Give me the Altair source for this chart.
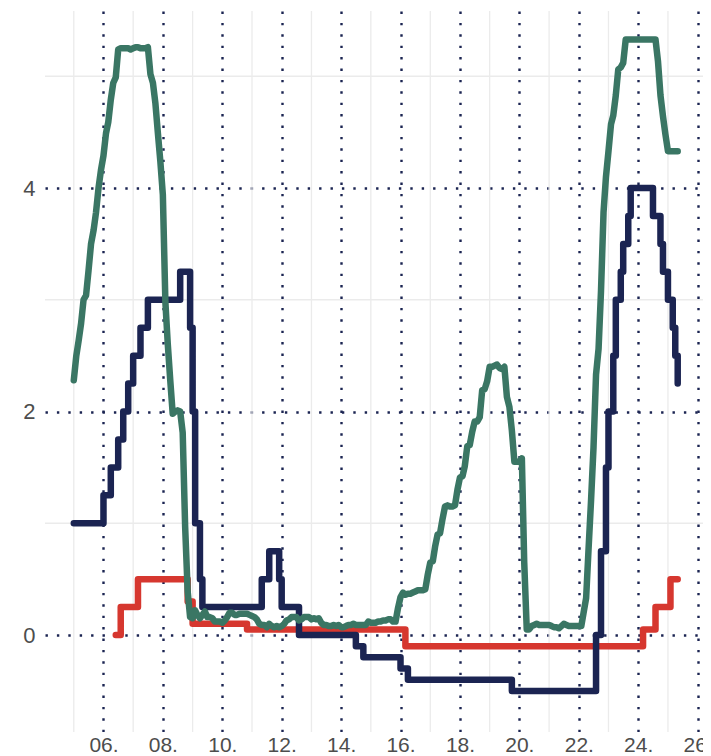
import altair as alt
import pandas as pd

NAVY = "#1b2452"
GREEN = "#3a7664"
RED = "#d6372f"
GRID_LIGHT = "#ebebeb"
LABEL = "#4d4d4d"
FONT = "Liberation Sans"

# Green series: monthly rate, Jan 2005 - May 2025
green_start_year = 2005
green_rate = [
    2.28, 2.50, 2.63, 2.79, 3.00, 3.04, 3.26, 3.50, 3.62, 3.78, 4.00, 4.16,
    4.29, 4.49, 4.59, 4.79, 4.94, 4.99, 5.24, 5.25, 5.25, 5.25, 5.25, 5.24,
    5.25, 5.26, 5.26, 5.25, 5.25, 5.25, 5.26, 5.02, 4.94, 4.76, 4.49, 4.24,
    3.94, 2.98, 2.61, 2.28, 1.98, 2.00, 2.01, 2.00, 1.81, 0.97, 0.39, 0.16,
    0.15, 0.22, 0.18, 0.15, 0.18, 0.21, 0.16, 0.16, 0.15, 0.12, 0.12, 0.12,
    0.11, 0.13, 0.16, 0.20, 0.20, 0.18, 0.18, 0.19, 0.19, 0.19, 0.19, 0.18,
    0.17, 0.16, 0.14, 0.10, 0.09, 0.09, 0.07, 0.10, 0.08, 0.07, 0.08, 0.07,
    0.08, 0.10, 0.13, 0.14, 0.16, 0.16, 0.16, 0.13, 0.14, 0.16, 0.16, 0.16,
    0.14, 0.15, 0.14, 0.15, 0.11, 0.09, 0.09, 0.08, 0.08, 0.09, 0.08, 0.09,
    0.07, 0.07, 0.08, 0.09, 0.09, 0.10, 0.09, 0.09, 0.09, 0.09, 0.09, 0.12,
    0.11, 0.11, 0.11, 0.12, 0.12, 0.13, 0.13, 0.14, 0.14, 0.12, 0.12, 0.24,
    0.34, 0.38, 0.36, 0.37, 0.37, 0.38, 0.39, 0.40, 0.40, 0.40, 0.41, 0.54,
    0.65, 0.66, 0.79, 0.90, 0.91, 1.04, 1.15, 1.16, 1.15, 1.15, 1.16, 1.30,
    1.41, 1.42, 1.51, 1.69, 1.70, 1.82, 1.91, 1.91, 1.95, 2.19, 2.20, 2.27,
    2.40, 2.40, 2.41, 2.42, 2.39, 2.38, 2.40, 2.13, 2.04, 1.83, 1.55, 1.55,
    1.55, 1.58, 0.65, 0.05, 0.05, 0.08, 0.09, 0.10, 0.09, 0.09, 0.09, 0.09,
    0.09, 0.08, 0.07, 0.07, 0.06, 0.08, 0.10, 0.09, 0.08, 0.08, 0.08, 0.08,
    0.08, 0.08, 0.20, 0.33, 0.77, 1.21, 1.68, 2.33, 2.56, 3.08, 3.78, 4.10,
    4.33, 4.57, 4.65, 4.83, 5.06, 5.08, 5.12, 5.33, 5.33, 5.33, 5.33, 5.33,
    5.33, 5.33, 5.33, 5.33, 5.33, 5.33, 5.33, 5.33, 5.13, 4.83, 4.64, 4.48,
    4.33, 4.33, 4.33, 4.33, 4.33,
]
green_dates = [f"{green_start_year + i // 12}-{i % 12 + 1:02d}-01" for i in range(len(green_rate))]

# Navy series: step changes (month, new level)
navy_dates = [
    "2005-01", "2006-01", "2006-04", "2006-07", "2006-09", "2006-11", "2007-01",
    "2007-04", "2007-07", "2008-08", "2008-12", "2009-01", "2009-02", "2009-04",
    "2009-05", "2011-05", "2011-08", "2011-12", "2012-01", "2012-08", "2014-07",
    "2014-10", "2016-01", "2016-04", "2019-10", "2022-08", "2022-10", "2022-12",
    "2023-01", "2023-03", "2023-04", "2023-06", "2023-07", "2023-09", "2023-10",
    "2024-07", "2024-10", "2024-11", "2025-01", "2025-03", "2025-04", "2025-05",
]
navy_rate = [
    1.00, 1.25, 1.50, 1.75, 2.00, 2.25, 2.50,
    2.75, 3.00, 3.25, 2.75, 2.00, 1.00, 0.50,
    0.25, 0.50, 0.75, 0.50, 0.25, 0.00, -0.10,
    -0.20, -0.30, -0.40, -0.50, 0.00, 0.75, 1.50,
    2.00, 2.50, 3.00, 3.25, 3.50, 3.75, 4.00,
    3.75, 3.50, 3.25, 3.00, 2.75, 2.50, 2.25,
]

# Red series: step changes (month, new level)
red_dates = ["2006-06", "2006-08", "2007-03", "2008-11", "2009-01", "2010-11",
             "2016-03", "2024-03", "2024-08", "2025-02", "2025-05"]
red_rate = [0.00, 0.25, 0.50, 0.30, 0.10, 0.05, -0.10, 0.05, 0.25, 0.50, 0.50]

major_years = list(range(2006, 2027, 2))
minor_years = list(range(2005, 2026, 2))
major_y = [0, 2, 4]
minor_y = [1, 3, 5]

green_df = pd.DataFrame({"date": green_dates, "rate": green_rate})
navy_df = pd.DataFrame({"date": [d + "-01" for d in navy_dates], "rate": navy_rate})
red_df = pd.DataFrame({"date": [d + "-01" for d in red_dates], "rate": red_rate})
minor_x_df = pd.DataFrame({"date": [f"{y}-01-01" for y in minor_years]})
minor_y_df = pd.DataFrame({"rate": minor_y})

x_enc = alt.X(
    "date:T",
    scale=alt.Scale(
        type="utc",
        domain=[alt.DateTime(year=2004, month=1, date=13, utc=True),
                alt.DateTime(year=2026, month=3, date=8, utc=True)],
    ),
    axis=alt.Axis(
        values=[alt.DateTime(year=y, month=1, date=1, utc=True) for y in major_years],
        format="%y.", title=None, domain=False, ticks=False,
        labelFontSize=21, labelColor=LABEL, labelFont=FONT, labelPadding=2,
        labelFlush=False, labelOverlap=False,
        grid=True, gridColor=NAVY, gridDash=[2.4, 9.0], gridWidth=2.4,
    ),
)
y_enc = alt.Y(
    "rate:Q",
    scale=alt.Scale(domain=[-0.868, 5.584], nice=False, zero=False),
    axis=alt.Axis(
        values=major_y, format="d", title=None, domain=False, ticks=False,
        labelFontSize=22, labelColor=LABEL, labelFont=FONT, labelPadding=10,
        grid=True, gridColor=NAVY, gridDash=[2.4, 9.0], gridWidth=2.4,
    ),
)

line_style = dict(strokeWidth=6.5, strokeCap="round", strokeJoin="round")

vminor = alt.Chart(minor_x_df).mark_rule(color=GRID_LIGHT, strokeWidth=1.3).encode(x=x_enc)
hminor = alt.Chart(minor_y_df).mark_rule(color=GRID_LIGHT, strokeWidth=1.3).encode(y=y_enc)
red = alt.Chart(red_df).mark_line(color=RED, interpolate="step-after", **line_style).encode(x=x_enc, y=y_enc)
navy = alt.Chart(navy_df).mark_line(color=NAVY, interpolate="step-after", **line_style).encode(x=x_enc, y=y_enc)
green = alt.Chart(green_df).mark_line(color=GREEN, **line_style).encode(x=x_enc, y=y_enc)

chart = (
    alt.layer(vminor, hminor, red, navy, green)
    .properties(
        width=658, height=721,
        autosize=alt.AutoSizeParams(type="none"),
        padding={"left": 37, "top": 3, "right": 0, "bottom": 24},
        background="white",
    )
    .configure_view(stroke=None)
)

chart.save("out.html", embed_options={"renderer": "svg", "actions": False})
